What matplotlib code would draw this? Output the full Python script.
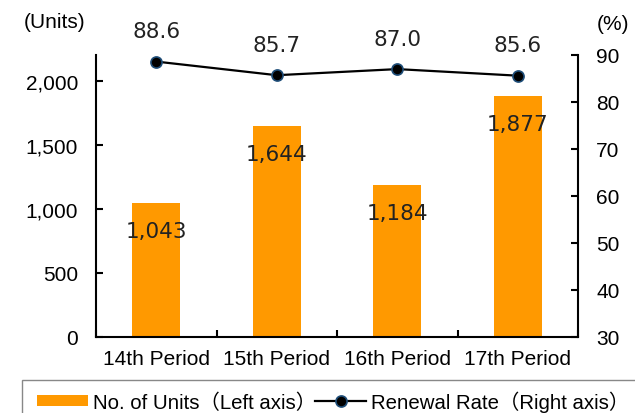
import matplotlib
matplotlib.use('Agg')
import matplotlib.pyplot as plt
import numpy as np
from matplotlib.patches import Patch, Rectangle
from matplotlib.lines import Line2D

plt.rcParams['font.family'] = ['Liberation Sans', 'Noto Sans CJK JP']
plt.rcParams['font.size'] = 15

# data
periods = ['14th Period', '15th Period', '16th Period', '17th Period']
units = [1043, 1644, 1184, 1877]
renewal_rate = [88.6, 85.7, 87.0, 85.6]

bar_color = '#FF9900'
line_color = '#000000'
marker_edge = '#1F4E79'

fig = plt.figure(figsize=(6.35, 4.14), dpi=100)
ax = fig.add_axes([96 / 635, 1 - 338 / 414, (578 - 96) / 635, (338 - 56) / 414])
x = np.arange(len(periods))

ax.bar(x, units, width=0.4, color=bar_color, zorder=2)
for xi, v in zip(x, units):
    ax.annotate(f'{v:,}', (xi, v), xytext=(0, -20), textcoords='offset points',
                ha='center', va='center', fontsize=15.5, family='DejaVu Sans',
                color='#222222')

ax.set_xlim(-0.5, 3.5)
ax.set_ylim(0, 2200)
ax.set_yticks([0, 500, 1000, 1500, 2000])
ax.set_yticklabels([f'{t:,}' for t in [0, 500, 1000, 1500, 2000]])
ax.set_xticks(x)
ax.set_xticklabels(periods)
ax.set_xticks([-0.5, 0.5, 1.5, 2.5, 3.5], minor=True)
ax.tick_params(axis='x', which='major', length=0, pad=9)
ax.tick_params(axis='x', which='minor', direction='in', length=5, width=1.5)
ax.tick_params(axis='y', direction='in', length=5, width=1.5, pad=13)
for side in ['top', 'right']:
    ax.spines[side].set_visible(False)
for side in ['left', 'bottom']:
    ax.spines[side].set_linewidth(1.5)

# renewal rate on the right axis
ax2 = ax.twinx()
ax2.plot(x, renewal_rate, color=line_color, lw=1.6, marker='o', markersize=8,
         markerfacecolor='black', markeredgecolor=marker_edge, markeredgewidth=1.2,
         zorder=3)
for xi, v in zip(x, renewal_rate):
    ax2.annotate(f'{v:.1f}', (xi, v), xytext=(0, 22), textcoords='offset points',
                 ha='center', va='center', fontsize=15.5, family='DejaVu Sans',
                 color='#222222')
ax2.set_ylim(30, 90)
ax2.set_yticks(range(30, 91, 10))
ax2.tick_params(axis='y', direction='in', length=5, width=1.5, pad=13)
for side in ['top', 'left', 'bottom']:
    ax2.spines[side].set_visible(False)
ax2.spines['right'].set_linewidth(1.5)

fig.text(24 / 635, 1 - 22 / 414, '(Units)', ha='left', va='center', fontsize=15)
fig.text(597 / 635, 1 - 24 / 414, '(%)', ha='left', va='center', fontsize=15)

# legend box along the bottom (runs off the right and bottom edges)
fig.patches.append(Rectangle((22 / 635, -0.05), 1.0, 1 - 381 / 414 + 0.05,
                             transform=fig.transFigure, fill=False,
                             edgecolor='#888888', linewidth=1.0))
handles = [
    Patch(facecolor=bar_color, edgecolor='none'),
    Line2D([], [], color=line_color, lw=1.6, marker='o', markersize=8,
           markerfacecolor='black', markeredgecolor=marker_edge, markeredgewidth=1.2),
]
labels = ['No. of Units（Left axis）', 'Renewal Rate（Right axis）']
leg = fig.legend(handles, labels, loc='center left',
                 bbox_to_anchor=(37 / 635, 1 - 402 / 414), ncol=2,
                 frameon=False, fontsize=14.7,
                 handlelength=2.5, handleheight=0.5, handletextpad=0.25,
                 columnspacing=-0.05, borderpad=0, borderaxespad=0)

fig.savefig('out.png', dpi=100)
